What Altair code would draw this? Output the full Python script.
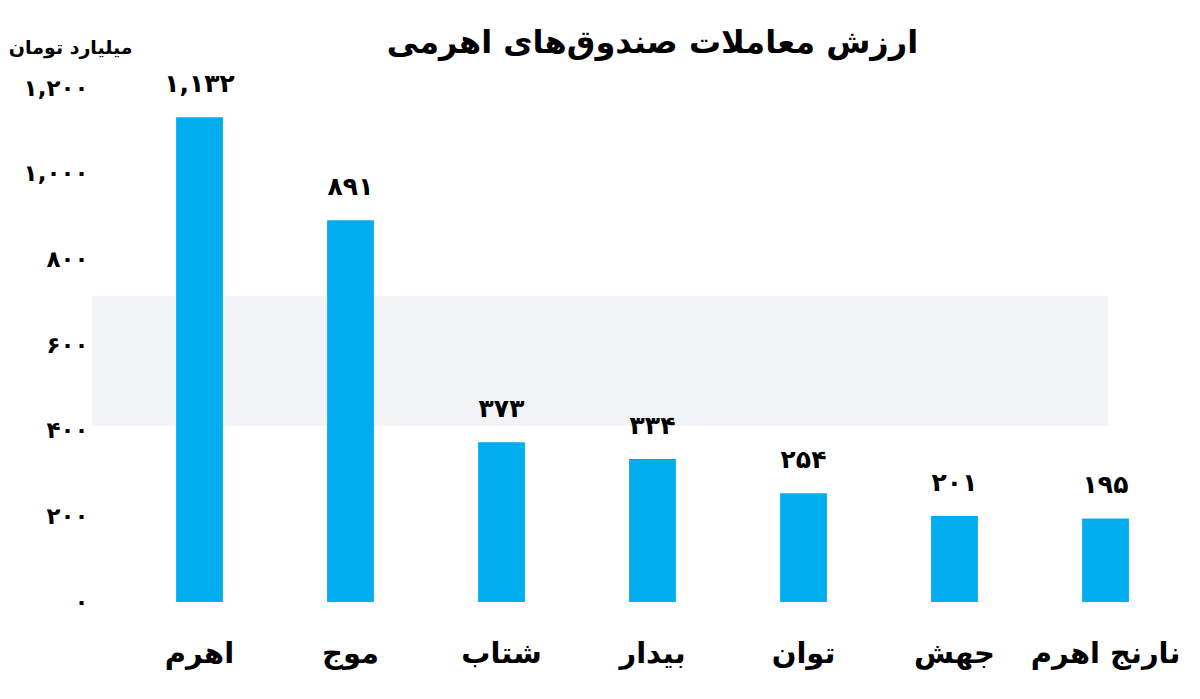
import altair as alt
import pandas as pd

categories = ["اهرم", "موج", "شتاب", "بیدار", "توان", "جهش", "نارنج اهرم"]
values = [1132, 891, 373, 334, 254, 201, 195]
value_labels = ["۱,۱۳۲", "۸۹۱", "۳۷۳", "۳۳۴", "۲۵۴", "۲۰۱", "۱۹۵"]
tick_values = [0, 200, 400, 600, 800, 1000, 1200]
tick_labels = ["۰", "۲۰۰", "۴۰۰", "۶۰۰", "۸۰۰", "۱,۰۰۰", "۱,۲۰۰"]

df = pd.DataFrame({"cat": categories, "val": values, "lab": value_labels})

expr = "".join(
    f"datum.value == {v} ? '{l}' : " for v, l in zip(tick_values, tick_labels)
) + "''"

FONT = "DejaVu Sans"

x = alt.X(
    "cat:N",
    sort=categories,
    title=None,
    scale=alt.Scale(paddingInner=0.69, paddingOuter=0.345),
    axis=alt.Axis(
        labelAngle=0,
        labelFontSize=29,
        labelFontWeight="bold",
        labelColor="#000000",
        labelFont=FONT,
        labelPadding=37,
        ticks=False,
        domain=False,
    ),
)
y = alt.Y(
    "val:Q",
    scale=alt.Scale(domain=[0, 1200]),
    axis=alt.Axis(
        values=tick_values,
        labelExpr=expr,
        labelFontSize=23,
        labelFontWeight="bold",
        labelColor="#000000",
        labelFont=FONT,
        labelPadding=36,
        ticks=False,
        domain=False,
        grid=False,
        title="میلیارد تومان",
        titleAngle=0,
        titleAlign="right",
        titleBaseline="middle",
        titleX=8,
        titleY=-41,
        titleFontSize=19,
        titleFontWeight="bold",
        titleFont=FONT,
        titleColor="#000000",
    ),
)

band = alt.Chart(pd.DataFrame({"a": [0]})).mark_rect(color="#F2F3F7").encode(
    x=alt.value(-32), x2=alt.value(984), y=alt.value(208), y2=alt.value(338)
)

bars = alt.Chart(df).mark_bar(color="#00AEEF").encode(x=x, y=y)

text = alt.Chart(df).mark_text(
    baseline="bottom", dy=-20, fontSize=25, fontWeight="bold", font=FONT, color="#000000"
).encode(x=alt.X("cat:N", sort=categories), y="val:Q", text="lab:N")

chart = (
    alt.layer(band, bars, text)
    .properties(
        width=1057,
        height=514,
        background="#FFFFFF",
        padding={"top": 19, "left": 0, "right": 5, "bottom": 5},
        title=alt.TitleParams(
            "ارزش معاملات صندوق‌های اهرمی",
            fontSize=32,
            fontWeight="bold",
            font=FONT,
            color="#000000",
            anchor="middle",
            offset=-22,
        ),
    )
    .configure_view(stroke=None, strokeWidth=0)
)

chart.save("out.html", embed_options={"renderer": "svg", "actions": False})
